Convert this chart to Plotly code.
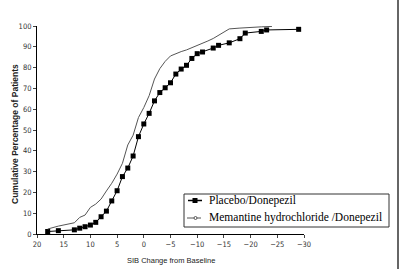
import plotly.graph_objects as go

placebo_x = [18, 16, 13, 12, 11, 10, 9, 8, 7, 6, 5, 4, 3, 2, 1, 0, -1, -2, -3, -4, -5, -6, -7, -8, -9, -10, -11, -13, -14, -16, -18, -19, -22, -23, -29]
placebo_y = [1.2, 1.6, 2.0, 2.8, 3.5, 4.3, 5.6, 8.3, 11.0, 15.9, 20.8, 27.6, 31.7, 37.5, 46.8, 52.9, 58.0, 64.0, 68.0, 70.3, 72.7, 76.9, 79.3, 81.1, 84.4, 86.7, 87.5, 89.4, 90.7, 91.9, 93.9, 96.6, 97.4, 98.1, 98.4]

meman_x = [18, 16, 13, 12, 11, 10, 9, 8, 7, 6, 5, 4, 3, 2, 1, 0, -1, -2, -3, -4, -5, -6, -7, -8, -9, -10, -11, -12, -13, -14, -15, -16, -18, -20, -22, -24]
meman_y = [2.4, 3.8, 5.4, 8.0, 9.1, 12.8, 14.4, 16.8, 20.7, 24.4, 28.8, 34.0, 42.8, 47.5, 56.0, 60.8, 66.5, 74.5, 79.5, 83.0, 85.6, 86.8, 87.7, 88.5, 89.5, 90.6, 91.7, 92.8, 94.0, 95.5, 96.8, 98.6, 99.0, 99.4, 99.6, 99.8]

x_ticks = [20, 15, 10, 5, 0, -5, -10, -15, -20, -25, -30]
y_ticks = [0, 10, 20, 30, 40, 50, 60, 70, 80, 90, 100]
legend_names = ["Placebo/Donepezil", "Memantine hydrochloride /Donepezil"]
x_title = "SIB Change from Baseline"
y_title = "Cumulative Percentage of Patients"

# plot-area geometry (pixels) used to place the hand-drawn legend box and titles
W, H = 400, 269
ML, MR, MT, MB = 37, 96, 26, 35
PW, PH = W - ML - MR, H - MT - MB


def px(x):
    return (x - ML) / PW


def py(y):
    return (H - MB - y) / PH


fig = go.Figure()
fig.add_trace(go.Scatter(
    x=placebo_x, y=placebo_y, mode="lines+markers", name=legend_names[0],
    line=dict(color="black", width=1),
    marker=dict(symbol="square", size=5, color="black"),
))
fig.add_trace(go.Scatter(
    x=meman_x, y=meman_y, mode="lines", name=legend_names[1],
    line=dict(color="#555555", width=1),
))

tickfont = dict(family="Liberation Sans Narrow, Arial Narrow, DejaVu Sans Condensed, Liberation Sans, sans-serif", size=7.5, color="#333333")
fig.update_layout(
    width=W, height=H,
    margin=dict(l=ML, r=MR, t=MT, b=MB),
    paper_bgcolor="white", plot_bgcolor="white",
    showlegend=False,
    xaxis=dict(range=[20, -30], tickvals=x_ticks, ticks="outside", ticklen=3, automargin=False,
               showline=True, linecolor="black", linewidth=1, showgrid=False, zeroline=False,
               tickfont=tickfont),
    yaxis=dict(range=[0, 100], tickvals=y_ticks, ticks="outside", ticklen=3, automargin=False,
               showline=True, linecolor="black", linewidth=1, showgrid=False, zeroline=False,
               tickfont=tickfont),
)

# axis titles
fig.add_annotation(text=x_title, xref="paper", yref="paper", x=px(171), y=py(260.5),
                   xanchor="center", yanchor="middle", showarrow=False,
                   font=dict(family="Liberation Sans, Arial, sans-serif", size=7.5, color="#222222"))
fig.add_annotation(text="<b>" + y_title + "</b>", xref="paper", yref="paper", x=px(15), y=py(134),
                   xanchor="center", yanchor="middle", showarrow=False, textangle=-90,
                   font=dict(family="Liberation Sans, Arial, sans-serif", size=8.5, color="#222222"))

# legend box
fig.add_shape(type="rect", xref="paper", yref="paper",
              x0=px(184), x1=px(389), y0=py(227), y1=py(194),
              line=dict(color="#333333", width=1), fillcolor="white", layer="above")
# placebo sample
fig.add_shape(type="line", xref="paper", yref="paper",
              x0=px(188), x1=px(202), y0=py(200.5), y1=py(200.5),
              line=dict(color="black", width=1.5), layer="above")
fig.add_shape(type="rect", xref="paper", yref="paper",
              x0=px(192.5), x1=px(197.5), y0=py(203), y1=py(198),
              line=dict(color="black", width=0), fillcolor="black", layer="above")
# memantine sample
fig.add_shape(type="line", xref="paper", yref="paper",
              x0=px(187), x1=px(201), y0=py(218), y1=py(218),
              line=dict(color="#555555", width=1), layer="above")
fig.add_shape(type="circle", xref="paper", yref="paper",
              x0=px(194), x1=px(197), y0=py(219.5), y1=py(216.5),
              line=dict(color="#555555", width=1), fillcolor="white", layer="above")
for name, yc in zip(legend_names, [200.5, 217.5]):
    fig.add_annotation(text=name, xref="paper", yref="paper", x=px(206.5), y=py(yc),
                       xanchor="left", yanchor="middle", showarrow=False,
                       font=dict(family="Liberation Serif, Times New Roman, serif", size=11.5, color="black"))

# right border
fig.add_shape(type="line", xref="paper", yref="paper", x0=px(398), x1=px(398), y0=py(269), y1=py(0),
              line=dict(color="#333333", width=1.5))

fig.write_html("out.html")
